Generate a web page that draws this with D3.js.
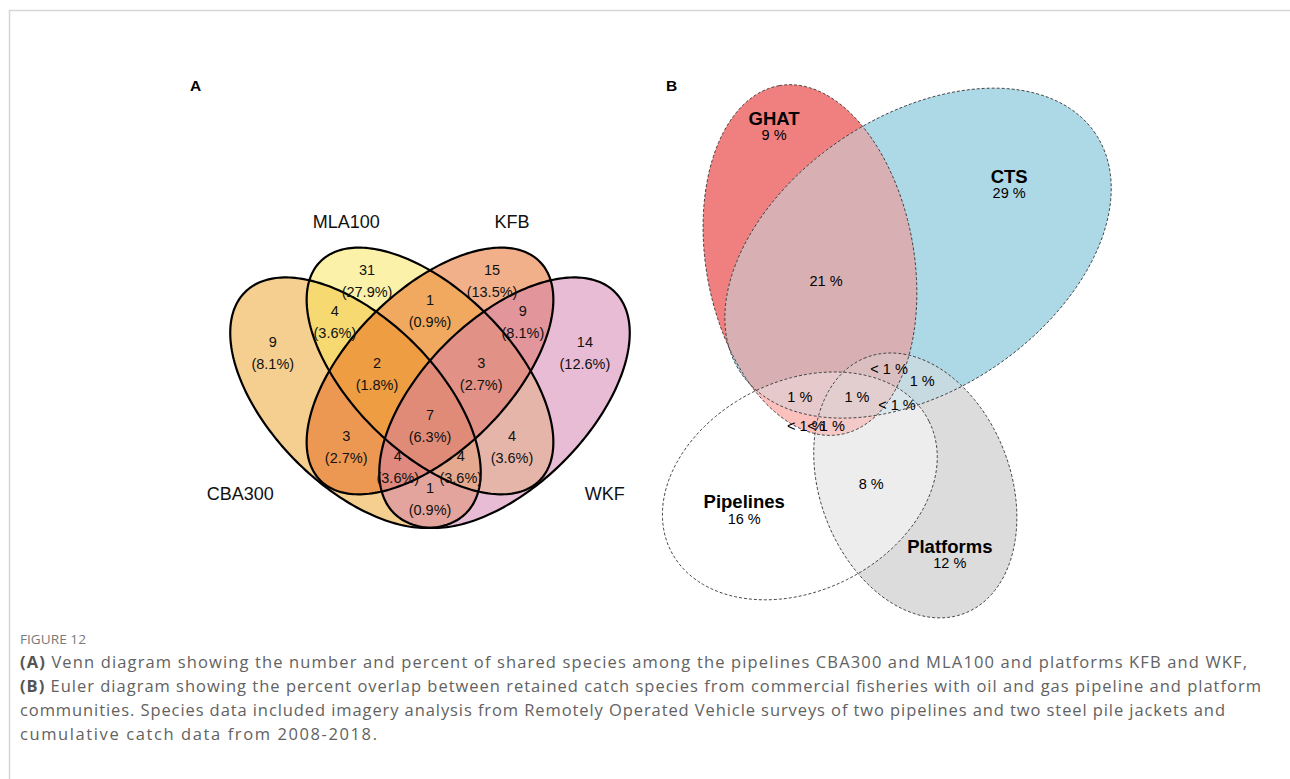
<!DOCTYPE html>
<html>
<head>
<meta charset="utf-8">
<script src="https://cdn.jsdelivr.net/npm/d3@7"></script>
<style>
  html, body { margin: 0; padding: 0; background: #fff; }
  svg { display: block; }
</style>
</head>
<body>
<svg id="fig" width="1290" height="779"></svg>
<script>
// ---------- Panel A: four-set Venn diagram of shared species ----------
const vennSets = ["CBA300", "MLA100", "KFB", "WKF"];
const vennFills = ["#eb9f1f", "#f7e351", "#e56115", "#d179ab"];
// region membership flags in the order CBA300, MLA100, KFB, WKF
const vennRegions = ["1000", "0100", "0010", "0001", "1100", "0110", "0011",
                     "1110", "0111", "1111", "1010", "0101", "1011", "1101", "1001"];
const vennCounts = [9, 31, 15, 14, 4, 1, 9, 2, 3, 7, 3, 4, 4, 4, 1];

// ---------- Panel B: Euler diagram of percent overlap ----------
const eulerSets = ["GHAT", "CTS", "Pipelines", "Platforms"];
const eulerFills = ["lightcoral", "lightblue", "white", "gainsboro"];
// region membership flags in the order GHAT, CTS, Pipelines, Platforms
const eulerRegions = ["1000", "0100", "0010", "0001", "1100", "0011",
                      "1101", "0101", "1110", "1111", "0111", "1010", "1011"];
const eulerPercents = [9, 29, 16, 12, 21, 8, 0.5, 1, 1, 1, 0.5, 0.5, 0.5];

// ---------- caption ----------
const figureTitle = "FIGURE 12";
const captionLines = [
  [["(A)", true], [" Venn diagram showing the number and percent of shared species among the pipelines CBA300 and MLA100 and platforms KFB and WKF,", false]],
  [["(B)", true], [" Euler diagram showing the percent overlap between retained catch species from commercial fisheries with oil and gas pipeline and platform", false]],
  [["communities. Species data included imagery analysis from Remotely Operated Vehicle surveys of two pipelines and two steel pile jackets and", false]],
  [["cumulative catch data from 2008-2018.", false]]
];

// ================= layout =================
const svg = d3.select("#fig");
const sans = "'Liberation Sans', Arial, Helvetica, sans-serif";

// frame lines of the figure box
svg.append("line").attr("x1", 9).attr("x2", 1290).attr("y1", 10.5).attr("y2", 10.5)
  .attr("stroke", "#d6d6d6").attr("stroke-width", 1.5);
svg.append("line").attr("x1", 9.5).attr("x2", 9.5).attr("y1", 10).attr("y2", 779)
  .attr("stroke", "#d6d6d6").attr("stroke-width", 1.5);

// ellipse outline as a closed path through the given scales
function ellipsePath(e, xs, ys) {
  const n = 240, phi = e.angle * Math.PI / 180, pts = [];
  for (let i = 0; i < n; i++) {
    const t = 2 * Math.PI * i / n;
    const x = e.cx + e.a * Math.cos(t) * Math.cos(phi) - e.b * Math.sin(t) * Math.sin(phi);
    const y = e.cy + e.a * Math.cos(t) * Math.sin(phi) + e.b * Math.sin(t) * Math.cos(phi);
    pts.push([xs(x), ys(y)]);
  }
  return d3.line().curve(d3.curveLinearClosed)(pts);
}

// ---------------- Panel A ----------------
const xA = d3.scaleLinear().domain([0, 1]).range([203.5, 656.5]);
const yA = d3.scaleLinear().domain([0, 1]).range([616.5, 163.5]);

const vennShapes = [
  { cx: 0.3355, cy: 0.472, a: 0.345, b: 0.184, angle: -45 },
  { cx: 0.5,    cy: 0.542, a: 0.342, b: 0.177, angle: -45 },
  { cx: 0.5,    cy: 0.542, a: 0.342, b: 0.177, angle: 45 },
  { cx: 0.6645, cy: 0.472, a: 0.345, b: 0.184, angle: 45 }
];
const vennCatPos = [[0.081, 0.270], [0.315, 0.871], [0.681, 0.871], [0.886, 0.270]];
const vennLabelPos = {
  "1000": [0.153, 0.582], "0100": [0.361, 0.741], "0010": [0.637, 0.741], "0001": [0.842, 0.582],
  "1100": [0.290, 0.650], "0110": [0.500, 0.674], "0011": [0.705, 0.650],
  "1110": [0.383, 0.535], "0111": [0.613, 0.535], "1111": [0.500, 0.421],
  "1010": [0.315, 0.374], "0101": [0.681, 0.374],
  "1011": [0.429, 0.330], "1101": [0.568, 0.330], "1001": [0.500, 0.259]
};

const gA = svg.append("g");
gA.append("text").attr("x", 195.5).attr("y", 86).attr("dy", "0.35em")
  .attr("text-anchor", "middle").attr("font-family", sans).attr("font-weight", "bold")
  .attr("font-size", 15.5).text("A");

gA.selectAll("path.fill").data(vennShapes).join("path").attr("class", "fill")
  .attr("d", d => ellipsePath(d, xA, yA))
  .attr("fill", (d, i) => vennFills[i]).attr("fill-opacity", 0.5).attr("stroke", "none");
gA.selectAll("path.edge").data(vennShapes).join("path").attr("class", "edge")
  .attr("d", d => ellipsePath(d, xA, yA))
  .attr("fill", "none").attr("stroke", "#000").attr("stroke-width", 2.2);

const total = d3.sum(vennCounts);
vennRegions.forEach((key, i) => {
  const [u, v] = vennLabelPos[key];
  const t = gA.append("text").attr("font-family", sans).attr("font-size", 14.5)
    .attr("fill", "#111").attr("text-anchor", "middle");
  t.append("tspan").attr("x", xA(u)).attr("y", yA(v) - 11).attr("dy", "0.35em").text(vennCounts[i]);
  t.append("tspan").attr("x", xA(u)).attr("y", yA(v) + 11).attr("dy", "0.35em")
    .text(`(${(vennCounts[i] / total * 100).toFixed(1)}%)`);
});
vennSets.forEach((s, i) => {
  gA.append("text").attr("x", xA(vennCatPos[i][0])).attr("y", yA(vennCatPos[i][1]))
    .attr("dy", "0.35em").attr("text-anchor", "middle").attr("font-family", sans)
    .attr("font-size", 18).attr("fill", "#111").text(s);
});

// ---------------- Panel B ----------------
const xB = d3.scaleLinear().domain([0, 1]).range([660, 1120]);
const yB = d3.scaleLinear().domain([0, 1]).range([640, 180]);

const eulerShapes = [
  { cx: 0.326, cy: 0.826, a: 0.385, b: 0.226, angle: 100 },
  { cx: 0.561, cy: 0.841, a: 0.465, b: 0.298, angle: 34 },
  { cx: 0.304, cy: 0.335, a: 0.314, b: 0.228, angle: 26.6 },
  { cx: 0.555, cy: 0.336, a: 0.298, b: 0.207, angle: 111 }
];
const eulerLabelPos = {
  "1000": [0.248, 1.133], "0100": [0.759, 1.007], "0010": [0.183, 0.300], "0001": [0.630, 0.204],
  "1100": [0.361, 0.780], "0011": [0.459, 0.339],
  "1101": [0.498, 0.589], "0101": [0.570, 0.563], "1110": [0.304, 0.528], "1111": [0.428, 0.528],
  "0111": [0.515, 0.511], "1010": [0.317, 0.465], "1011": [0.361, 0.465]
};

const gB = svg.append("g");
gB.append("text").attr("x", 671.5).attr("y", 86).attr("dy", "0.35em")
  .attr("text-anchor", "middle").attr("font-family", sans).attr("font-weight", "bold")
  .attr("font-size", 15.5).text("B");

const defs = svg.append("defs");
eulerShapes.forEach((e, i) => {
  defs.append("clipPath").attr("id", "clipB" + i)
    .append("path").attr("d", ellipsePath(e, xB, yB));
});

// intersections are filled with the CIELab mean of the member colours
function mixColors(cols) {
  const labs = cols.map(c => d3.lab(c));
  return d3.lab(d3.mean(labs, d => d.l), d3.mean(labs, d => d.a), d3.mean(labs, d => d.b)).formatHex();
}
const combos = d3.range(1, 16).map(m => d3.range(4).filter(i => m & (1 << i)))
  .sort((p, q) => p.length - q.length);
combos.forEach(members => {
  let g = gB;
  members.forEach(i => { g = g.append("g").attr("clip-path", `url(#clipB${i})`); });
  g.append("rect").attr("x", 640).attr("y", 60).attr("width", 500).attr("height", 600)
    .attr("fill", mixColors(members.map(i => eulerFills[i])));
});
gB.selectAll("path.edge").data(eulerShapes).join("path").attr("class", "edge")
  .attr("d", d => ellipsePath(d, xB, yB))
  .attr("fill", "none").attr("stroke", "#333").attr("stroke-width", 0.9)
  .attr("stroke-dasharray", "3,2");

const fmtPct = v => v < 1 ? "< 1 %" : `${v} %`;
eulerRegions.forEach((key, i) => {
  const [u, v] = eulerLabelPos[key];
  const setIdx = key.indexOf("1");
  const single = key.split("1").length === 2;
  if (single) {
    gB.append("text").attr("x", xB(u)).attr("y", yB(v)).attr("dy", "0.35em")
      .attr("text-anchor", "middle").attr("font-family", sans).attr("font-weight", "bold")
      .attr("font-size", 18.5).attr("fill", "#000").text(eulerSets[setIdx]);
    gB.append("text").attr("x", xB(u)).attr("y", yB(v) + 16.5).attr("dy", "0.35em")
      .attr("text-anchor", "middle").attr("font-family", sans)
      .attr("font-size", 14.5).attr("fill", "#000").text(fmtPct(eulerPercents[i]));
  } else {
    gB.append("text").attr("x", xB(u)).attr("y", yB(v)).attr("dy", "0.35em")
      .attr("text-anchor", "middle").attr("font-family", sans)
      .attr("font-size", 14.5).attr("fill", "#000").text(fmtPct(eulerPercents[i]));
  }
});

// ---------------- caption ----------------
const capFont = "'Open Sans', 'Noto Sans', sans-serif";
svg.append("text").attr("x", 20).attr("y", 644).attr("font-family", capFont)
  .attr("font-size", 12.5).attr("fill", "#7a7a7a").attr("textLength", 66)
  .attr("lengthAdjust", "spacingAndGlyphs").text(figureTitle);
const lineWidths = [1227, 1241, 1205, 357];
captionLines.forEach((parts, i) => {
  const t = svg.append("text").attr("x", 20).attr("y", 668 + i * 24)
    .attr("font-family", capFont).attr("font-size", 16.5).attr("fill", "#626262")
    .attr("textLength", lineWidths[i]).attr("lengthAdjust", "spacing");
  parts.forEach(([s, bold]) => {
    t.append("tspan").attr("font-weight", bold ? "bold" : "normal")
      .attr("fill", bold ? "#555" : "#626262").text(s);
  });
});
</script>
</body>
</html>
